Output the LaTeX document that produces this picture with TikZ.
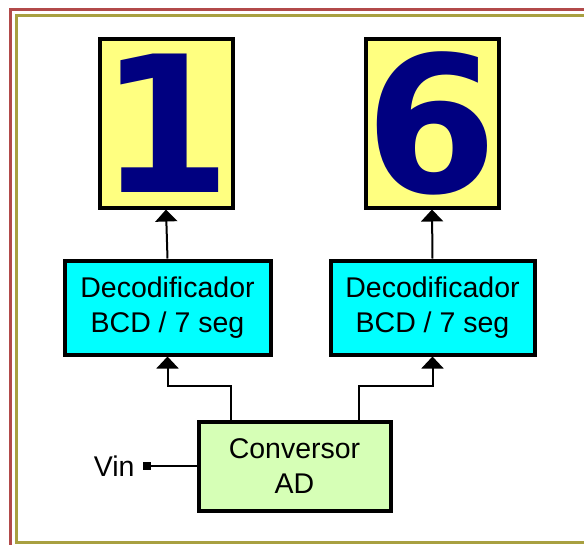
\documentclass[tikz,border=0pt]{standalone}
\usepackage{fontspec}
\setmainfont{Liberation Sans}
\newfontfamily\digitfont{DejaVu Sans}
\usetikzlibrary{arrows.meta, positioning}

\definecolor{framered}{RGB}{178,74,74}
\definecolor{frameolive}{RGB}{168,160,64}
\definecolor{segyellow}{RGB}{255,255,128}
\definecolor{segnavy}{RGB}{0,0,128}
\definecolor{decocyan}{RGB}{0,255,255}
\definecolor{convgreen}{RGB}{214,255,182}

\begin{document}
\begin{tikzpicture}[x=1pt, y=-1pt,
		block/.style={draw, line width=4pt, align=center, inner sep=0pt,
			font=\fontsize{28.5}{35}\selectfont},
		display/.style={draw, line width=4pt, fill=segyellow, inner sep=0pt,
			minimum width=133pt, minimum height=169pt, text=segnavy,
			font=\digitfont\bfseries\fontsize{190}{190}\selectfont},
		wire/.style={line width=2pt},
		arr/.style={wire, -{Triangle[width=22pt,length=12pt]}}]
		\useasboundingbox (0,0) rectangle (584,544);
		\fill[white] (0,0) rectangle (584,544);
		
		% double frame, open at the right and bottom
		\begin{scope}
		\clip (0,0) rectangle (584,544);
		\draw[framered, line width=3pt] (10,9) rectangle (600,560);
		\draw[frameolive, line width=3pt] (16,15) rectangle (600,542);
		\end{scope}
		
		\def\rise{34};
		
		% 7-segment displays
		\node[display] (disp1) at (166,123) {1};
		\node[display] (disp2) at (432,123) {6};
		
		% decoders
		\node[block, fill=decocyan, minimum width=206pt, minimum height=94pt]
			(dec1) at (167.5,307.5) {Decodificador\\BCD / 7 seg};
		\node[block, fill=decocyan, minimum width=204pt, minimum height=94pt]
			(dec2) at (432.5,307.5) {Decodificador\\BCD / 7 seg};
		
		% converter and input
		\node[block, fill=convgreen, minimum width=192pt, minimum height=89pt]
			(conv) at (294.5,466) {Conversor\\AD};
		\node[fill, minimum size=8pt, inner sep=0pt] (vin) at (147,466) {};
		\node[left=8pt of vin, inner sep=0pt, font=\fontsize{28.5}{35}\selectfont]
			(vinlabel) {Vin};
		
		\draw[wire] (vin) -- (conv.west);
		
		\begin{scope}[arr]
		\draw ([xshift=-63.5pt]conv.north) -- ++(0,-\rise) -| (dec1.south);
		\draw ([xshift=64.5pt]conv.north) -- ++(0,-\rise) -| (dec2.south);
		\draw (dec1.north) -- (disp1.south);
		\draw (dec2.north) -- (disp2.south);
		\end{scope}
	\end{tikzpicture}
\end{document}
